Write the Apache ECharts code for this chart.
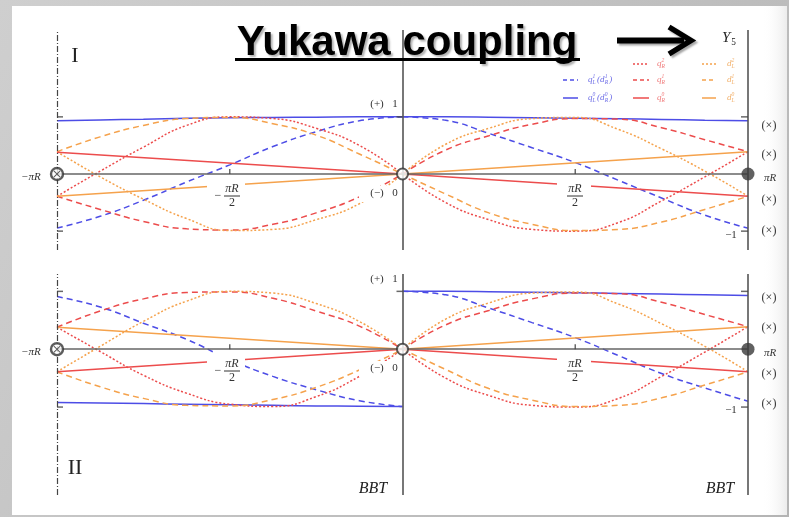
<!DOCTYPE html>
<html>
<head>
<meta charset="utf-8">
<script src="https://cdn.jsdelivr.net/npm/echarts@6/dist/echarts.min.js"></script>
<style>
html, body { margin: 0; padding: 0; }
#chart { width: 789px; height: 517px; }
</style>
</head>
<body>
<div id="chart"></div>
<script>
// positions along the extra dimension, in units of piR/4
var xLeft = [-4, -3.5, -3, -2.5, -2, -1.5, -1, -0.5, 0];
var xRight = [0, 0.5, 1, 1.5, 2, 2.5, 3, 3.5, 4];
var xEnds = [-4, 0, 4];

// panel I, left half (-piR .. 0)
var qL0_I_L = [0.93, 0.945, 0.96, 0.975, 0.985, 0.99, 0.995, 1.0, 1.0];
var qL1_I_L = [-0.945, -0.74, -0.46, -0.14, 0.16, 0.48, 0.74, 0.93, 1.0];
var qR2_I_L = [-0.39, 0.05, 0.47, 0.85, 1.0, 0.97, 0.80, 0.50, 0];
var qR1_I_L = [-0.39, -0.62, -0.83, -0.96, -0.98, -0.88, -0.68, -0.40, 0];
var dL2_I_L = [0.39, -0.05, -0.44, -0.78, -0.99, -0.97, -0.80, -0.52, 0];
var dL1_I_L = [0.39, 0.65, 0.85, 0.97, 0.99, 0.88, 0.68, 0.35, 0];
// panel I, right half (0 .. piR)
var qL0_I_R = [1.0, 1.0, 0.995, 0.985, 0.975, 0.965, 0.955, 0.94, 0.93];
var qL1_I_R = [1.0, 0.94, 0.71, 0.46, 0.20, -0.11, -0.42, -0.72, -0.95];
var qR2_I_R = [0, -0.50, -0.80, -0.97, -1.0, -0.85, -0.47, -0.05, 0.39];
var qR1_I_R = [0, 0.42, 0.67, 0.87, 0.97, 0.96, 0.81, 0.60, 0.39];
var dL2_I_R = [0, 0.52, 0.80, 0.97, 0.99, 0.78, 0.44, 0.05, -0.39];
var dL1_I_R = [0, -0.35, -0.68, -0.88, -0.99, -0.97, -0.84, -0.62, -0.39];
// straight zero modes of panel I
var qR0_I = [0.38, 0, -0.39];
var dL0_I = [-0.39, 0, 0.39];

// panel II, left half
var qL0_II_L = [-0.92, -0.93, -0.94, -0.95, -0.96, -0.97, -0.98, -0.985, -0.99];
var qL1_II_L = [0.91, 0.73, 0.45, 0.17, -0.18, -0.47, -0.70, -0.89, -0.99];
var qR2_II_L = [0.38, -0.04, -0.45, -0.76, -0.95, -0.99, -0.82, -0.47, 0];
var qR1_II_L = [0.38, 0.66, 0.87, 0.98, 0.99, 0.88, 0.66, 0.40, 0];
var dL2_II_L = [-0.39, 0.05, 0.48, 0.83, 1.0, 0.97, 0.79, 0.48, 0];
var dL1_II_L = [-0.39, -0.65, -0.85, -0.97, -0.98, -0.87, -0.66, -0.36, 0];
// panel II, right half
var qL0_II_R = [1.0, 1.0, 0.995, 0.985, 0.975, 0.965, 0.955, 0.94, 0.93];
var qL1_II_R = [1.0, 0.94, 0.71, 0.46, 0.20, -0.11, -0.42, -0.67, -0.90];
var qR2_II_R = [0, -0.50, -0.80, -0.97, -1.0, -0.85, -0.47, -0.05, 0.39];
var qR1_II_R = [0, 0.42, 0.67, 0.87, 0.97, 0.96, 0.81, 0.60, 0.39];
var dL2_II_R = [0, 0.52, 0.80, 0.97, 0.99, 0.78, 0.44, 0.05, -0.39];
var dL1_II_R = [0, -0.35, -0.68, -0.88, -0.99, -0.97, -0.84, -0.62, -0.39];
var qR0_II = [-0.39, 0, -0.39];
var dL0_II = [0.38, 0, 0.39];

// axis marks
var xTicks = [-2, 2];
var yTicks = [1, -1];

var BLUE = '#4d4de6', RED = '#ec4c4c', ORANGE = '#f5a24c';
var DASH = [6, 4], DOT = [2, 2];
var MATH = '"Liberation Serif", "DejaVu Serif", serif';

function pts(xs, ys) {
    return xs.map(function (x, i) { return [x, ys[i]]; });
}

function curve(g, xs, ys, color, dash, smooth) {
    return {
        type: 'line', xAxisIndex: g, yAxisIndex: g,
        data: pts(xs, ys),
        symbol: 'none', smooth: smooth, silent: true, z: 3,
        lineStyle: {color: color, width: 1.5, type: dash}
    };
}

function frame(g) {
    return {
        type: 'line', xAxisIndex: g, yAxisIndex: g, data: [[0, 0]],
        symbol: 'none', silent: true, z: 2,
        lineStyle: {opacity: 0},
        markLine: {
            silent: true, symbol: ['none', 'none'], label: {show: false},
            data: [
                {xAxis: -4, lineStyle: {color: '#444', width: 1.2, type: [6, 2, 1, 2]}},
                {xAxis: 0, lineStyle: {color: '#555', width: 1.6, type: 'solid'}},
                {xAxis: 4, lineStyle: {color: '#555', width: 1.6, type: 'solid'}},
                {yAxis: 0, lineStyle: {color: '#666', width: 1.6, type: 'solid'}}
            ]
        }
    };
}

function marks(g, data, symbol, size, offset, item) {
    return {
        type: 'scatter', xAxisIndex: g, yAxisIndex: g, silent: true, z: 6,
        data: data, symbol: symbol, symbolSize: size, symbolOffset: offset,
        itemStyle: item
    };
}

var XPATH = 'path://M1,0L5,4L9,0L10,1L6,5L10,9L9,10L5,6L1,10L0,9L4,5L0,1Z';

function panelMarks(g) {
    return [
        marks(g, xTicks.map(function (x) { return [x, 0]; }), 'rect', [1.5, 5], [0, -2.5], {color: '#444'}),
        marks(g, yTicks.map(function (y) { return [-4, y]; }), 'rect', [6, 1.5], [3, 0], {color: '#444'}),
        marks(g, yTicks.map(function (y) { return [4, y]; }), 'rect', [7, 1.5], [-3.5, 0], {color: '#444'}),
        marks(g, [[0, 1]], 'rect', [6, 1.5], [-3, 0], {color: '#444'}),
        marks(g, [[-4, 0]], 'circle', 12, [0, 0], {color: '#fff', borderColor: '#333', borderWidth: 2.4}),
        marks(g, [[-4, 0]], XPATH, 7, [0, 0], {color: '#333'}),
        marks(g, [[0, 0]], 'circle', 11, [0, 0], {color: '#fff', borderColor: '#333', borderWidth: 2}),
        marks(g, [[4, 0]], 'circle', 13, [0, 0], {color: '#3a3a3a'})
    ];
}

var series = [frame(0), frame(1)];
series.push(
    curve(0, xLeft, qL0_I_L, BLUE, 'solid', true), curve(0, xRight, qL0_I_R, BLUE, 'solid', true),
    curve(0, xLeft, qL1_I_L, BLUE, DASH, true), curve(0, xRight, qL1_I_R, BLUE, DASH, true),
    curve(0, xLeft, qR2_I_L, RED, DOT, true), curve(0, xRight, qR2_I_R, RED, DOT, true),
    curve(0, xLeft, qR1_I_L, RED, DASH, true), curve(0, xRight, qR1_I_R, RED, DASH, true),
    curve(0, xLeft, dL2_I_L, ORANGE, DOT, true), curve(0, xRight, dL2_I_R, ORANGE, DOT, true),
    curve(0, xLeft, dL1_I_L, ORANGE, DASH, true), curve(0, xRight, dL1_I_R, ORANGE, DASH, true),
    curve(0, xEnds, qR0_I, RED, 'solid', false),
    curve(0, xEnds, dL0_I, ORANGE, 'solid', false),

    curve(1, xLeft, qL0_II_L, BLUE, 'solid', true), curve(1, xRight, qL0_II_R, BLUE, 'solid', true),
    curve(1, xLeft, qL1_II_L, BLUE, DASH, true), curve(1, xRight, qL1_II_R, BLUE, DASH, true),
    curve(1, xLeft, qR2_II_L, RED, DOT, true), curve(1, xRight, qR2_II_R, RED, DOT, true),
    curve(1, xLeft, qR1_II_L, RED, DASH, true), curve(1, xRight, qR1_II_R, RED, DASH, true),
    curve(1, xLeft, dL2_II_L, ORANGE, DOT, true), curve(1, xRight, dL2_II_R, ORANGE, DOT, true),
    curve(1, xLeft, dL1_II_L, ORANGE, DASH, true), curve(1, xRight, dL1_II_R, ORANGE, DASH, true),
    curve(1, xEnds, qR0_II, RED, 'solid', false),
    curve(1, xEnds, dL0_II, ORANGE, 'solid', false)
);
series = series.concat(panelMarks(0), panelMarks(1));

// ---- text and decoration ----
function label(x, y, s, o) {
    o = o || {};
    return {
        type: 'text', x: x, y: y, z: 30, silent: true,
        style: {
            text: s, fill: o.color || '#333',
            fontFamily: o.family || MATH,
            fontSize: o.size || 11,
            fontStyle: o.italic ? 'italic' : 'normal',
            fontWeight: o.weight || 'normal',
            align: o.align || 'center', verticalAlign: 'middle'
        }
    };
}
function box(x, y, w, h, fill, z) {
    return {type: 'rect', z: z === undefined ? 20 : z, silent: true,
        shape: {x: x, y: y, width: w, height: h}, style: {fill: fill || '#fff'}};
}
function seg(x1, y1, x2, y2, color, width, dash) {
    return {type: 'line', z: 30, silent: true,
        shape: {x1: x1, y1: y1, x2: x2, y2: y2},
        style: {stroke: color, lineWidth: width, lineDash: dash || null}};
}
function frac(cx, cy, neg) {
    var els = [
        label(cx, cy, 'πR', {italic: true, size: 12}),
        seg(cx - 8, cy + 7, cx + 8, cy + 7, '#333', 1),
        label(cx, cy + 14, '2', {size: 12})
    ];
    if (neg) els.push(label(cx - 14, cy + 7, '−', {size: 12}));
    return els;
}
function scripted(x, y, parts, color, fs) {
    var els = [];
    parts.forEach(function (p) {
        if (p.t) {
            els.push(label(x, y, p.t, {color: color, size: fs, italic: true, align: 'left'}));
            x += p.w * fs;
        }
        if (p.sup) els.push(label(x, y - fs * 0.38, p.sup, {color: color, size: fs * 0.62, italic: true, align: 'left'}));
        if (p.sub) els.push(label(x, y + fs * 0.32, p.sub, {color: color, size: fs * 0.62, italic: p.subItalic !== false, align: 'left'}));
        if (p.sup || p.sub) x += fs * 0.5;
    });
    return els;
}

var LBLUE = '#6b6be6', LRED = '#f07a7a', LORANGE = '#f2b06a';
var g = [];
// paper
g.push(box(12, 6, 775, 509, '#fff', 0));
g.push({type: 'rect', z: 0, silent: true, shape: {x: 762, y: 6, width: 25, height: 509},
    style: {fill: {type: 'linear', x: 0, y: 0, x2: 1, y2: 0,
        colorStops: [{offset: 0, color: 'rgba(255,255,255,0)'}, {offset: 1, color: 'rgba(200,200,200,0.35)'}]}}});

// title
g.push({type: 'text', x: 407, y: 43, z: 40, silent: true,
    style: {text: 'Yukawa coupling', fill: '#000', fontFamily: '"Liberation Sans", Arial, sans-serif',
        fontSize: 42, fontWeight: 'bold', align: 'center', verticalAlign: 'middle',
        textShadowColor: 'rgba(0,0,0,0.3)', textShadowBlur: 2, textShadowOffsetX: 2, textShadowOffsetY: 2}});
g.push(box(235, 58, 345, 3, '#000', 40));
// arrow
g.push({type: 'line', z: 40, silent: true, shape: {x1: 617, y1: 40.5, x2: 684, y2: 40.5},
    style: {stroke: '#000', lineWidth: 6, shadowColor: 'rgba(0,0,0,0.35)', shadowBlur: 2, shadowOffsetX: 2, shadowOffsetY: 2}});
g.push({type: 'polyline', z: 40, silent: true, shape: {points: [[669, 27], [691, 40.5], [669, 54]]},
    style: {stroke: '#000', fill: null, lineWidth: 5.5, lineJoin: 'miter',
        shadowColor: 'rgba(0,0,0,0.35)', shadowBlur: 2, shadowOffsetX: 2, shadowOffsetY: 2}});
g = g.concat(scripted(722, 38, [{t: 'Y', w: 0.62, sub: '5', subItalic: false}], '#222', 15));

// panel numbers and BBT
g.push(label(75, 56, 'I', {size: 22, color: '#222'}));
g.push(label(75, 468, 'II', {size: 22, color: '#222'}));
g.push(label(373, 489, 'BBT', {size: 16, italic: true, color: '#222'}));
g.push(label(720, 489, 'BBT', {size: 16, italic: true, color: '#222'}));

// legend
var lx = [563, 633, 702], tx = [588, 657, 727], ry = [64, 80, 98];
g.push(seg(lx[0], ry[1], lx[0] + 15, ry[1], BLUE, 1.5, [4, 3]));
g.push(seg(lx[0], ry[2], lx[0] + 15, ry[2], BLUE, 1.5));
g.push(seg(lx[1], ry[0], lx[1] + 16, ry[0], RED, 1.5, [2, 2]));
g.push(seg(lx[1], ry[1], lx[1] + 16, ry[1], RED, 1.5, [4, 3]));
g.push(seg(lx[1], ry[2], lx[1] + 16, ry[2], RED, 1.5));
g.push(seg(lx[2], ry[0], lx[2] + 14, ry[0], ORANGE, 1.5, [2, 2]));
g.push(seg(lx[2], ry[1], lx[2] + 14, ry[1], ORANGE, 1.5, [4, 3]));
g.push(seg(lx[2], ry[2], lx[2] + 14, ry[2], ORANGE, 1.5));
g = g.concat(
    scripted(tx[0], ry[1], [{t: 'q', w: 0.5, sup: '1', sub: 'L'}, {t: '(d', w: 0.85, sup: '1', sub: 'R'}, {t: ')', w: 0.35}], LBLUE, 9),
    scripted(tx[0], ry[2], [{t: 'q', w: 0.5, sup: '0', sub: 'L'}, {t: '(d', w: 0.85, sup: '0', sub: 'R'}, {t: ')', w: 0.35}], LBLUE, 9),
    scripted(tx[1], ry[0], [{t: 'q', w: 0.5, sup: '2', sub: 'R'}], LRED, 9),
    scripted(tx[1], ry[1], [{t: 'q', w: 0.5, sup: '1', sub: 'R'}], LRED, 9),
    scripted(tx[1], ry[2], [{t: 'q', w: 0.5, sup: '0', sub: 'R'}], LRED, 9),
    scripted(tx[2], ry[0], [{t: 'd', w: 0.5, sup: '2', sub: 'L'}], LORANGE, 9),
    scripted(tx[2], ry[1], [{t: 'd', w: 0.5, sup: '1', sub: 'L'}], LORANGE, 9),
    scripted(tx[2], ry[2], [{t: 'd', w: 0.5, sup: '0', sub: 'L'}], LORANGE, 9)
);

// axis annotations for both panels (panel II is 175 px lower)
[0, 175].forEach(function (dy) {
    g.push(label(31, 177 + dy, '−πR', {italic: true, size: 11}));
    g.push(label(770, 178 + dy, 'πR', {italic: true, size: 11}));
    g.push(box(207, 178 + dy, 38, 35));
    g.push(box(557, 178 + dy, 34, 35));
    g = g.concat(frac(232, 189 + dy, true), frac(575, 189 + dy, false));
    g.push(box(359, 186 + dy, 41, 16));
    g.push(label(377, 193 + dy, '(−)', {size: 11}));
    g.push(label(395, 193 + dy, '0', {size: 11}));
    g.push(label(377, 104 + dy, '(+)', {size: 11}));
    g.push(label(395, 104 + dy, '1', {size: 11}));
    g.push(label(731, 235 + dy, '−1', {size: 11}));
});
[126, 155, 200, 231, 298, 328, 374, 404].forEach(function (y) {
    g.push(label(769, y, '(×)', {size: 12}));
});

var chart = echarts.init(document.getElementById('chart'));
chart.setOption({
    animation: false,
    backgroundColor: {type: 'linear', x: 0, y: 0, x2: 1, y2: 1,
        colorStops: [{offset: 0, color: '#cfcfcf'}, {offset: 1, color: '#b4b4b4'}]},
    grid: [
        {left: 57, width: 691, top: 30, height: 220},
        {left: 57, width: 691, top: 274, height: 221}
    ],
    xAxis: [
        {type: 'value', gridIndex: 0, min: -4, max: 4, show: false},
        {type: 'value', gridIndex: 1, min: -4, max: 4, show: false}
    ],
    yAxis: [
        {type: 'value', gridIndex: 0, min: -1.33, max: 2.52, show: false},
        {type: 'value', gridIndex: 1, min: -2.52, max: 1.3, show: false}
    ],
    series: series,
    graphic: g
});
</script>
</body>
</html>
